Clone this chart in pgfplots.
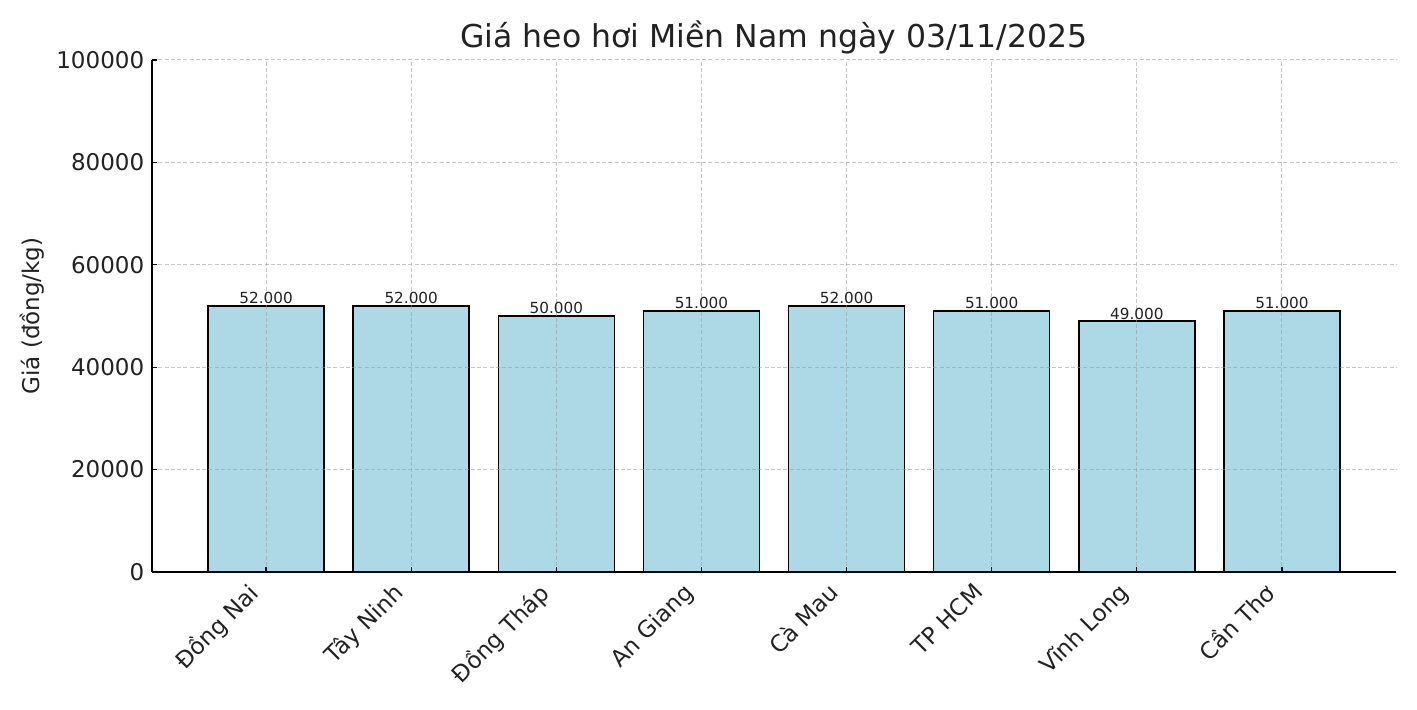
\documentclass[border=0pt]{standalone}
\usepackage{fontspec}
\setmainfont{DejaVu Sans}
\usepackage{pgfplots}
\pgfplotsset{compat=1.18}
\definecolor{barblue}{HTML}{ADD8E6}
\definecolor{txt}{HTML}{222222}
\begin{document}
\begin{tikzpicture}
\useasboundingbox (0,0) rectangle (566.8pt,283.6pt);
\begin{axis}[
  at={(60.8pt,54.8pt)}, anchor=south west,
  scale only axis, width=497.6pt, height=204.8pt,
  xmin=-0.786, xmax=7.786, ymin=0, ymax=100000,
  ybar, bar width=0.8,
  scaled y ticks=false,
  xtick={0,1,2,3,4,5,6,7},
  xticklabels={Đồng Nai, Tây Ninh, Đồng Tháp, An Giang, Cà Mau, TP HCM, Vĩnh Long, Cần Thơ},
  ytick={0,20000,40000,60000,80000,100000},
  yticklabels={0,20000,40000,60000,80000,100000},
  axis x line*=bottom, axis y line*=left,
  axis line style={line width=0.7pt, black, -},
  tick align=inside, major tick length=2pt,
  tick style={black, line width=0.5pt},
  grid=major,
  major grid style={black!40, draw opacity=0.55, line width=0.4pt, dash pattern=on 1.6pt off 0.9pt},
  axis on top,
  ticklabel style={font=\fontsize{9.2}{11}\selectfont, text=txt},
  yticklabel style={xshift=0.4pt},
  xticklabel style={rotate=45, anchor=north east, inner sep=0pt, xshift=-8pt, yshift=3pt},
  title={Giá heo hơi Miền Nam ngày 03/11/2025},
  title style={font=\fontsize{12.6}{15}\selectfont, text=txt, at={(0.5,1)}, anchor=base, yshift=-1.2pt},
  ylabel={Giá (đồng/kg)},
  ylabel style={font=\fontsize{9.2}{11}\selectfont, text=txt, at={(axis description cs:-0.0965,0.5)}, anchor=center},
  nodes near coords,
  point meta=explicit symbolic,
  nodes near coords style={font=\fontsize{6.1}{7}\selectfont, text=txt, anchor=base, yshift=0.8pt},
]
\addplot[fill=barblue, draw=black, line width=0.6pt] coordinates {
  (0,52000)[52.000]
  (1,52000)[52.000]
  (2,50000)[50.000]
  (3,51000)[51.000]
  (4,52000)[52.000]
  (5,51000)[51.000]
  (6,49000)[49.000]
  (7,51000)[51.000]
};
\end{axis}
\end{tikzpicture}
\end{document}
